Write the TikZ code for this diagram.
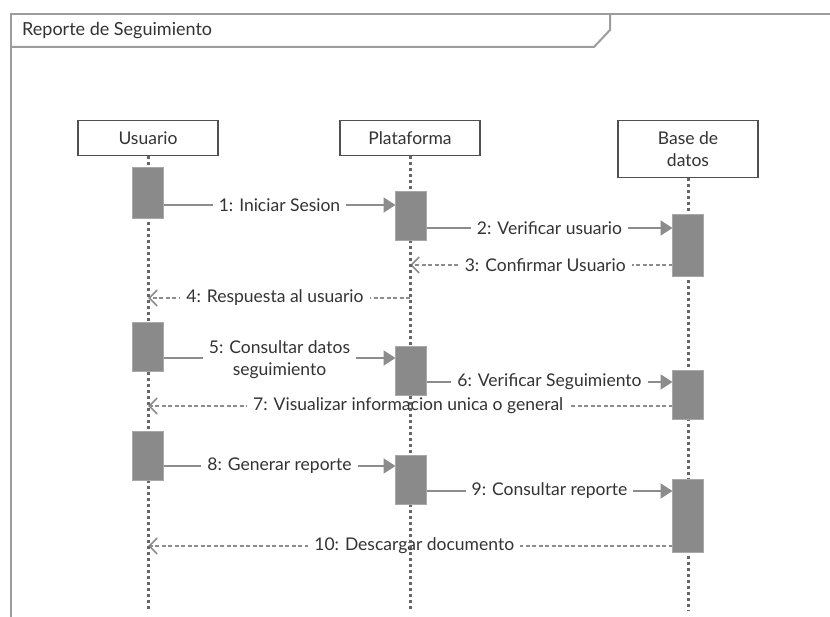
\documentclass[tikz,border=0pt]{standalone}
\usepackage{fontspec}
\setmainfont{Lato}
\usetikzlibrary{arrows.meta,calc}
\definecolor{lnc}{HTML}{8C8C8C}
\definecolor{txc}{HTML}{333333}
\definecolor{actf}{HTML}{8A8A8A}
\definecolor{actd}{HTML}{A8A8A8}
\definecolor{boxd}{HTML}{505050}
\definecolor{llc}{HTML}{666666}
\tikzset{
  part/.style={draw=boxd, line width=1.4pt, fill=white, minimum width=140pt, minimum height=35pt, inner sep=2pt, align=center, text=txc, font=\fontsize{17.5}{22}\selectfont, anchor=north},
  actbox/.style={draw=actd, fill=actf, line width=1pt, minimum width=30pt, inner sep=0pt, anchor=north},
  lifeline/.style={draw=llc, line width=3pt, dash pattern=on 3pt off 3pt},
  msg/.style={draw=lnc, line width=2pt, -{Triangle[length=12pt,width=15pt]}},
  ret/.style={draw=lnc, line width=1.6pt, dash pattern=on 4pt off 2.5pt, -{Straight Barb[length=8pt,width=16pt,line width=1.6pt]}},
  lbl/.style={fill=white, text=txc, font=\fontsize{17.5}{22}\selectfont, inner sep=6pt, inner ysep=1pt, align=center},
  frm/.style={draw=lnc!85!white, line width=2pt}
}
\begin{document}
\begin{tikzpicture}[x=1pt,y=-1pt]
\useasboundingbox[fill=white] (0,0) rectangle (830,617);
% frame
\draw[frm] (11,617) -- (11,14) -- (830,14);
\draw[frm] (11,47) -- (594,47) -- (610,30) -- (610,14);
\node[anchor=west, text=txc, font=\fontsize{18}{21}\selectfont, inner sep=0pt] (title) at (22,30.5) {Reporte de Seguimiento};
% participants
\node[part] (U) at (148,120) {Usuario};
\node[part] (P) at (410,120) {Plataforma};
\node[part, minimum height=57pt] (B) at (688,120) {Base de\\datos};
% lifeline ends
\coordinate (Ue) at (148,611);
\coordinate (Pe) at (410,611);
\coordinate (Be) at (688,611);
% activations (positions)
\path
  node[actbox, minimum height=50pt] (u1) at (148,168) {}
  node[actbox, minimum height=48pt] (p1) at (411,192) {}
  node[actbox, minimum height=61pt] (b1) at (688,215) {}
  node[actbox, minimum height=48pt] (u2) at (148,323) {}
  node[actbox, minimum height=48pt] (p2) at (411,347) {}
  node[actbox, minimum height=48pt] (b2) at (688,371) {}
  node[actbox, minimum height=48pt] (u3) at (148,431) {}
  node[actbox, minimum height=48pt] (p3) at (411,455) {}
  node[actbox, minimum height=72pt] (b3) at (688,479) {};
% messages (lifelines drawn over labels afterwards)
\draw[msg] (u1.east |- 0,205) -- node[lbl]{1: Iniciar Sesion} (p1.west |- 0,205);
\draw[msg] (p1.east |- 0,228) -- node[lbl]{2: Verificar usuario} (b1.west |- 0,228);
\draw[ret] (b1.west |- 0,265) -- node[lbl, xshift=4pt]{3: Confirmar Usuario} (P.south |- 0,265);
\draw[ret] (P.south |- 0,298) -- node[lbl, xshift=-4pt]{4: Respuesta al usuario} (U.south |- 0,298);
\draw[msg] (u2.east |- 0,358) -- node[lbl, yshift=-2pt]{5: Consultar datos\\seguimiento} (p2.west |- 0,358);
\draw[msg] (p2.east |- 0,382) -- node[lbl]{6: Verificar Seguimiento} (b2.west |- 0,382);
\draw[ret] (b2.west |- 0,406) -- node[lbl, xshift=-2pt]{7: Visualizar informacion unica o general} (U.south |- 0,406);
\draw[msg] (u3.east |- 0,466) -- node[lbl]{8: Generar reporte} (p3.west |- 0,466);
\draw[msg] (p3.east |- 0,491) -- node[lbl]{9: Consultar reporte} (b3.west |- 0,491);
\draw[ret] (b3.west |- 0,546) -- node[lbl, xshift=4pt]{10: Descargar documento} (U.south |- 0,546);
% lifelines
\draw[lifeline] (U.south) -- (Ue);
\draw[lifeline] (P.south) -- (Pe);
\draw[lifeline] (B.south) -- (Be);
% activations on top
\foreach \a in {u1,p1,b1,u2,p2,b2,u3,p3,b3}{
  \draw[draw=actd, fill=actf, line width=1pt] (\a.north west) rectangle (\a.south east);
}
\end{tikzpicture}
\end{document}
